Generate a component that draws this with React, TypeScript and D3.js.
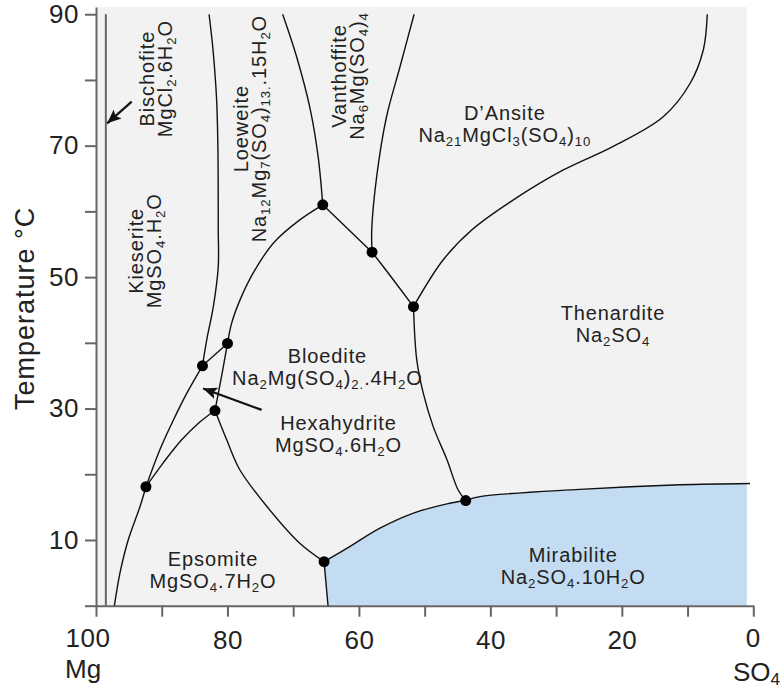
import React, { useEffect, useRef } from "react";
import * as d3 from "d3";

// axes: temperature (°C) and composition (% Mg, 100 = Mg ... 0 = SO4)
const tempTop = 91.1;
const tempTicks = [0, 10, 20, 30, 40, 50, 60, 70, 80, 90];
const tempLabels = [10, 30, 50, 70, 90];
const compTicks = [100, 90, 80, 70, 60, 50, 40, 30, 20, 10, 0];
const compLabels = [80, 60, 40, 20];
const compEnds = [100, 0];
const compEndNames = ["Mg", "SO_{4}"];
const compRight = 1; // shaded field stops here

// invariant points [Mg %, °C]
const invariantPoints: [number, number][] = [
  [92.4, 18.1], [83.8, 36.5], [80.0, 39.9], [81.9, 29.7], [65.3, 6.7],
  [43.75, 16.0], [51.7, 45.5], [65.5, 61.0], [58.0, 53.8],
];

// phase boundaries, each [Mg %, °C]
const bischofiteLine: [number, number][] = [[98.5, 0], [98.5, 90]];
const epsomiteKieserite: [number, number][] = [[97.2, 0], [96.35, 5], [95.1, 10], [93.3, 15.1], [92.4, 18.1]];
const hexahydriteKieserite: [number, number][] = [[92.4, 18.1], [90.3, 23.7], [88.2, 28.3], [86.2, 32.3], [83.8, 36.5]];
const loeweiteKieserite: [number, number][] = [[83.8, 36.5], [83.16, 40.4], [82.15, 45.5], [81.4, 51.6], [81.4, 57.2], [81.45, 69.4], [81.65, 77], [82.2, 84.6], [82.8, 90]];
const epsomiteHexahydrite: [number, number][] = [[92.4, 18.1], [89.8, 21.7], [87.0, 25.2], [84.5, 27.7], [81.9, 29.7]];
const hexahydriteLoeweite: [number, number][] = [[83.8, 36.5], [80.0, 39.9]];
const hexahydriteBloedite: [number, number][] = [[81.9, 29.7], [80.9, 34.9], [80.0, 39.9]];
const loeweiteBloedite: [number, number][] = [[80.0, 39.9], [79.36, 43.0], [78.1, 46.5], [76.1, 50.6], [73.0, 55.2], [69.0, 58.7], [65.5, 61.0]];
const loeweiteVanthoffite: [number, number][] = [[65.5, 61.0], [66.2, 68.3], [67.4, 75.5], [69.5, 83.6], [71.6, 90]];
const bloediteVanthoffite: [number, number][] = [[65.5, 61.0], [58.0, 53.8]];
const vanthoffiteDansite: [number, number][] = [[58.0, 53.8], [58.05, 57.2], [57.3, 65.3], [55.8, 74.4], [53.75, 82.0], [51.6, 90]];
const bloediteDansite: [number, number][] = [[58.0, 53.8], [55.0, 49.9], [51.7, 45.5]];
const dansiteThenardite: [number, number][] = [[51.7, 45.5], [47.2, 52.6], [42.8, 57.2], [36.5, 61.75], [28.9, 66.3], [21.3, 69.9], [13.7, 74.4], [9.6, 79.5], [7.6, 84.6], [7.0, 90]];
const bloediteThenardite: [number, number][] = [[51.7, 45.5], [51.2, 37.4], [50.2, 32.3], [48.7, 27.25], [46.6, 22.2], [44.9, 17.6], [43.75, 16.0]];
const epsomiteBloedite: [number, number][] = [[81.9, 29.7], [80.1, 25.2], [78.1, 20.65], [74.0, 15.1], [69.0, 9.5], [65.3, 6.7]];
const epsomiteMirabilite: [number, number][] = [[65.3, 6.7], [64.7, 0]];
const mirabiliteBloedite: [number, number][] = [[65.3, 6.7], [61.4, 9.0], [56.8, 11.8], [51.7, 14.1], [46.6, 15.5], [43.75, 16.0]];
const mirabiliteThenardite: [number, number][] = [[43.75, 16.0], [41.6, 16.6], [26.4, 17.7], [11.2, 18.4], [0.5, 18.6]];

const boundaries = [
  epsomiteKieserite, hexahydriteKieserite, loeweiteKieserite, epsomiteHexahydrite,
  hexahydriteLoeweite, hexahydriteBloedite, loeweiteBloedite, loeweiteVanthoffite,
  bloediteVanthoffite, vanthoffiteDansite, bloediteDansite, dansiteThenardite,
  bloediteThenardite, epsomiteBloedite, epsomiteMirabilite, mirabiliteBloedite, mirabiliteThenardite,
];

// field labels; _{..} marks a subscript
const phaseNames = ["Bischofite", "Kieserite", "Loeweite", "Vanthoffite", "D’Ansite", "Thenardite", "Bloedite", "Hexahydrite", "Epsomite", "Mirabilite"];
const phaseFormulas = [
  "MgCl_{2}.6H_{2}O", "MgSO_{4}.H_{2}O", "Na_{12}Mg_{7}(SO_{4})_{13.}.15H_{2}O", "Na_{6}Mg(SO_{4})_{4}",
  "Na_{21}MgCl_{3}(SO_{4})_{10}", "Na_{2}SO_{4}", "Na_{2}Mg(SO_{4})_{2.}.4H_{2}O", "MgSO_{4}.6H_{2}O",
  "MgSO_{4}.7H_{2}O", "Na_{2}SO_{4}.10H_{2}O",
];
const phaseAnchors: [number, number][] = [
  [91.2, 80.2], [92.85, 54.0], [76.87, 72.6], [61.9, 80.6], [37.8, 73.9],
  [21.35, 43.5], [64.8, 36.9], [63.1, 26.75], [82.2, 6.05], [27.4, 6.7],
];
const phaseVertical = [true, true, true, true, false, false, false, false, false, false];

// pointer arrows [from, to]
const arrowTails: [number, number][] = [[94.57, 76.7], [74.8, 29.8]];
const arrowTips: [number, number][] = [[98.3, 73.4], [83.7, 33.05]];

const FONT = "'Liberation Sans', Arial, Helvetica, sans-serif";

function richText(sel: any, str: string) {
  const parts = str.split(/(_\{[^}]*\})/).filter((p) => p !== "");
  let shifted = false;
  parts.forEach((p) => {
    const sub = p.startsWith("_{");
    const t = sel.append("tspan").text(sub ? p.slice(2, -1) : p);
    if (sub) {
      t.attr("font-size", "0.66em").attr("dy", shifted ? 0 : 4);
      shifted = true;
    } else if (shifted) {
      t.attr("dy", -4);
      shifted = false;
    }
  });
}

export default function App() {
  const svgRef = useRef<SVGSVGElement>(null);

  useEffect(() => {
    const svg = d3.select(svgRef.current);
    svg.selectAll("*").remove();

    const x = d3.scaleLinear().domain([100, 0]).range([96, 753.3]);
    const y = d3.scaleLinear().domain([0, tempTop]).range([605.7, 7]);

    const defs = svg.append("defs");
    defs.append("clipPath").attr("id", "plotClip")
      .append("rect")
      .attr("x", x(100)).attr("y", y(tempTop))
      .attr("width", x(compRight) - x(100)).attr("height", y(0) - y(tempTop));
    defs.append("marker")
      .attr("id", "arrowHead")
      .attr("markerUnits", "userSpaceOnUse")
      .attr("markerWidth", 15).attr("markerHeight", 12)
      .attr("refX", 14).attr("refY", 6)
      .attr("orient", "auto")
      .append("path").attr("d", "M0,0 L14,6 L0,12 L3,6 Z").attr("fill", "#111");

    // plot background
    svg.append("rect")
      .attr("x", x(100)).attr("y", y(tempTop))
      .attr("width", x(compRight) - x(100)).attr("height", y(0) - y(tempTop))
      .attr("fill", "#f2f2f2");

    const line = d3.line<[number, number]>()
      .x((d) => x(d[0])).y((d) => y(d[1]))
      .curve(d3.curveCatmullRom.alpha(0.5));

    // mirabilite field
    const mirTop = mirabiliteBloedite.concat(mirabiliteThenardite.slice(1));
    const last = mirTop[mirTop.length - 1];
    svg.append("path")
      .attr("d", line(mirTop) + `L${x(last[0])},${y(0)}L${x(epsomiteMirabilite[1][0])},${y(0)}Z`)
      .attr("fill", "#c3dcf2")
      .attr("clip-path", "url(#plotClip)");

    // axes
    const yAxis = svg.append("g")
      .attr("transform", `translate(${x(100)},0)`)
      .call(d3.axisLeft(y).tickValues(tempTicks).tickSize(11).tickPadding(6).tickSizeOuter(0)
        .tickFormat((d: any) => (tempLabels.includes(+d) ? String(d) : "")));
    yAxis.attr("font-size", 26).attr("font-family", FONT);
    yAxis.selectAll("path, line").attr("stroke", "#666").attr("stroke-width", 2);
    yAxis.selectAll("text").attr("fill", "#222").attr("letter-spacing", 0.5);

    const xAxis = svg.append("g")
      .attr("transform", `translate(0,${y(0)})`)
      .call(d3.axisBottom(x).tickValues(compTicks).tickSize(11).tickPadding(14).tickSizeOuter(0)
        .tickFormat((d: any) => (compLabels.includes(+d) ? String(d) : "")));
    xAxis.attr("font-size", 26).attr("font-family", FONT);
    xAxis.selectAll("path, line").attr("stroke", "#666").attr("stroke-width", 2);
    xAxis.selectAll("text").attr("fill", "#222").attr("letter-spacing", 0.5);

    // end members: value with the component name below it
    compEnds.forEach((v, i) => {
      svg.append("text")
        .attr("font-family", FONT).attr("font-size", 26).attr("fill", "#222")
        .attr("letter-spacing", 0.5)
        .attr("x", x(v) + (i === 0 ? -8 : 0)).attr("y", 647)
        .attr("text-anchor", "middle").text(String(v));
      const name = svg.append("text")
        .attr("font-family", FONT).attr("font-size", 26).attr("fill", "#222")
        .attr("x", i === 0 ? 65 : 733).attr("y", i === 0 ? 678 : 681);
      richText(name, compEndNames[i]);
    });

    svg.append("text")
      .attr("transform", `translate(34,${(y(0) + y(tempTop)) / 2 + 2}) rotate(-90)`)
      .attr("text-anchor", "middle")
      .attr("font-family", FONT).attr("font-size", 27).attr("letter-spacing", 1).attr("fill", "#222")
      .text("Temperature °C");

    // bischofite field edge
    svg.append("path").attr("d", d3.line<[number, number]>().x((d) => x(d[0])).y((d) => y(d[1]))(bischofiteLine))
      .attr("stroke", "#666").attr("stroke-width", 2).attr("fill", "none");

    // boundaries
    svg.append("g").selectAll("path")
      .data(boundaries)
      .enter().append("path")
      .attr("d", (d) => line(d))
      .attr("fill", "none").attr("stroke", "#111").attr("stroke-width", 1.4);

    svg.append("g").selectAll("circle")
      .data(invariantPoints)
      .enter().append("circle")
      .attr("cx", (d) => x(d[0])).attr("cy", (d) => y(d[1])).attr("r", 5.5)
      .attr("fill", "#000");

    // arrows
    arrowTails.forEach((t, i) => {
      svg.append("line")
        .attr("x1", x(t[0])).attr("y1", y(t[1]))
        .attr("x2", x(arrowTips[i][0])).attr("y2", y(arrowTips[i][1]))
        .attr("stroke", "#111").attr("stroke-width", 2.2)
        .attr("marker-end", "url(#arrowHead)");
    });

    // field labels
    const labels = svg.append("g")
      .attr("font-family", FONT).attr("font-size", 20).attr("letter-spacing", 0.9).attr("fill", "#222")
      .attr("text-anchor", "middle");
    phaseNames.forEach((name, i) => {
      const [cx, ct] = phaseAnchors[i];
      const g = labels.append("g").attr("transform", phaseVertical[i]
        ? `translate(${x(cx)},${y(ct)}) rotate(-90)`
        : `translate(${x(cx)},${y(ct)})`);
      g.append("text").attr("y", 0).text(name);
      richText(g.append("text").attr("y", phaseVertical[i] ? 18 : 22), phaseFormulas[i]);
    });
  }, []);

  return (
    <svg ref={svgRef} width={781} height={690}
      style={{ position: "absolute", left: 0, top: 0, background: "#fff" }} />
  );
}
